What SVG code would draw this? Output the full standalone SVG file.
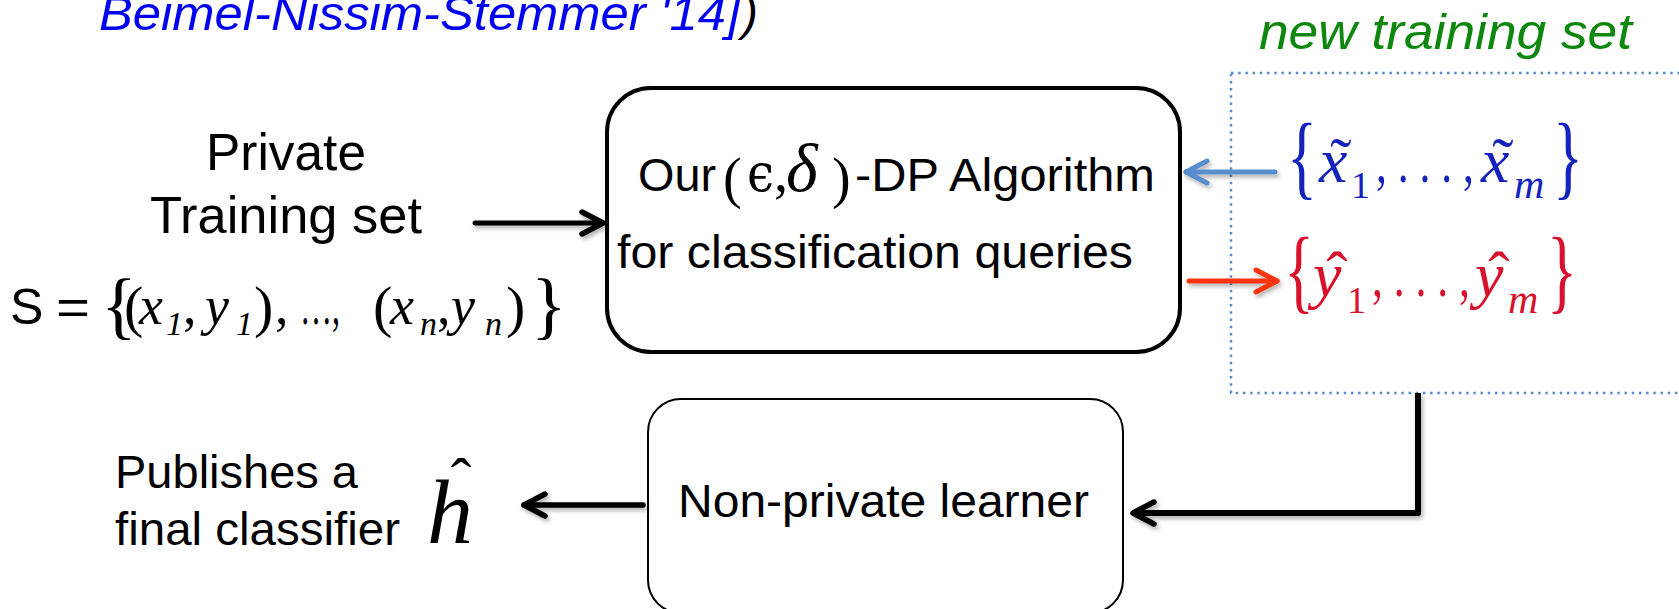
<svg xmlns="http://www.w3.org/2000/svg" width="1679" height="609" viewBox="0 0 1679 609">
<style>
.sans{font-family:"Liberation Sans",Arial,sans-serif;fill:#000}
.serif{font-family:"Liberation Serif","Times New Roman","DejaVu Serif",serif}
.it{font-style:italic}
.box{fill:#fff;stroke:#000}
.conn{fill:none;stroke-linecap:round;stroke-linejoin:round}
</style>
<defs>
<filter id="sh" x="-10%" y="-50%" width="130%" height="250%">
<feDropShadow dx="2" dy="3" stdDeviation="2" flood-color="#000" flood-opacity="0.3"/>
</filter>
<marker id="ahK" viewBox="0 0 30 30" markerWidth="30" markerHeight="30" refX="26" refY="15" orient="auto" markerUnits="userSpaceOnUse">
<path d="M5,4 L26,15 L5,26" fill="none" stroke="#000" stroke-width="5.5" stroke-linecap="round" stroke-linejoin="round"/>
</marker>
<marker id="ahB" viewBox="0 0 30 30" markerWidth="30" markerHeight="30" refX="26" refY="15" orient="auto" markerUnits="userSpaceOnUse">
<path d="M5,4 L26,15 L5,26" fill="none" stroke="#5A8DCB" stroke-width="5" stroke-linecap="round" stroke-linejoin="round"/>
</marker>
<marker id="ahR" viewBox="0 0 30 30" markerWidth="30" markerHeight="30" refX="26" refY="15" orient="auto" markerUnits="userSpaceOnUse">
<path d="M5,4 L26,15 L5,26" fill="none" stroke="#FF3410" stroke-width="5" stroke-linecap="round" stroke-linejoin="round"/>
</marker>
</defs>
<rect x="0" y="0" width="1679" height="609" fill="#fff"/>

<g id="citation">
<text class="sans it" x="99" y="30" font-size="48" style="fill:#0000F0" textLength="641" lengthAdjust="spacingAndGlyphs">Beimel-Nissim-Stemmer '14]</text>
<text class="sans it" x="742" y="30" font-size="48">)</text>
</g>

<g id="private-set">
<text class="sans" x="206" y="170" font-size="52" textLength="160" lengthAdjust="spacingAndGlyphs">Private</text>
<text class="sans" x="150" y="233" font-size="52" textLength="272" lengthAdjust="spacingAndGlyphs">Training set</text>
<text class="sans" x="10" y="324" font-size="50">S</text>
<text class="sans" x="56" y="324" font-size="50" textLength="34" lengthAdjust="spacingAndGlyphs">=</text>
<g class="serif">
<text x="101" y="330" font-size="74">{</text>
<text x="124" y="326" font-size="58">(</text>
<text class="it" x="139" y="324" font-size="54">x</text>
<text class="it" x="166" y="335" font-size="34">1</text>
<text x="183" y="324" font-size="54">,</text>
<text class="it" x="205" y="324" font-size="54">y</text>
<text class="it" x="236" y="335" font-size="34">1</text>
<text x="254" y="326" font-size="58">)</text>
<text x="275" y="324" font-size="54">,</text>
<text x="300" y="324" font-size="54" textLength="40" lengthAdjust="spacingAndGlyphs">…,</text>
<text x="373" y="326" font-size="58">(</text>
<text class="it" x="390" y="324" font-size="54">x</text>
<text class="it" x="420" y="335" font-size="34">n</text>
<text x="437" y="324" font-size="54">,</text>
<text class="it" x="451" y="324" font-size="54">y</text>
<text class="it" x="485" y="335" font-size="34">n</text>
<text x="506" y="326" font-size="58">)</text>
<text x="531" y="330" font-size="74">}</text>
</g>
</g>

<g id="algo">
<rect class="box" x="607" y="88" width="573" height="264" rx="44" ry="44" stroke-width="4"/>
<text class="sans" x="638" y="191" font-size="46" textLength="78" lengthAdjust="spacingAndGlyphs">Our</text>
<text class="serif" x="723" y="197" font-size="56">(</text>
<text x="747" y="191" font-size="52" style="font-family:'DejaVu Serif',serif" textLength="27" lengthAdjust="spacingAndGlyphs">ϵ</text>
<text class="serif" x="774" y="191" font-size="56">,</text>
<text class="serif it" x="786" y="191" font-size="68">δ</text>
<text class="serif" x="832" y="197" font-size="56">)</text>
<text class="sans" x="855" y="191" font-size="46" textLength="300" lengthAdjust="spacingAndGlyphs">-DP Algorithm</text>
<text class="sans" x="617" y="268" font-size="46" textLength="516" lengthAdjust="spacingAndGlyphs">for classification queries</text>
</g>

<g id="new-training-set">
<text class="sans it" x="1259" y="49" font-size="50" style="fill:#0E870E" textLength="373" lengthAdjust="spacingAndGlyphs">new training set</text>
<rect x="1231" y="73" width="470" height="320" fill="none" stroke="#5B8BCB" stroke-width="2.5" stroke-dasharray="2.5 4.7"/>
<g class="serif" fill="#1423BC">
<text x="1287" y="188" font-size="94" textLength="30" lengthAdjust="spacingAndGlyphs">{</text>
<text class="it" x="1319" y="182" font-size="64">x</text>
<text x="1341" y="182" font-size="64" text-anchor="middle">˜</text>
<text x="1351" y="198" font-size="38">1</text>
<text x="1376" y="182" font-size="60" textLength="98" lengthAdjust="spacingAndGlyphs">, . . . ,</text>
<text class="it" x="1481" y="182" font-size="64">x</text>
<text x="1503" y="182" font-size="64" text-anchor="middle">˜</text>
<text class="it" x="1514" y="198" font-size="42">m</text>
<text x="1553" y="188" font-size="94" textLength="30" lengthAdjust="spacingAndGlyphs">}</text>
</g>
<g class="serif" fill="#D8112C">
<text x="1284" y="302" font-size="94" textLength="30" lengthAdjust="spacingAndGlyphs">{</text>
<text class="it" x="1313" y="296" font-size="64">y</text>
<text x="1337" y="296" font-size="64" text-anchor="middle">ˆ</text>
<text x="1347" y="313" font-size="38">1</text>
<text x="1372" y="296" font-size="60" textLength="98" lengthAdjust="spacingAndGlyphs">, . . . ,</text>
<text class="it" x="1475" y="296" font-size="64">y</text>
<text x="1499" y="296" font-size="64" text-anchor="middle">ˆ</text>
<text class="it" x="1508" y="313" font-size="42">m</text>
<text x="1547" y="302" font-size="94" textLength="30" lengthAdjust="spacingAndGlyphs">}</text>
</g>
</g>

<g id="learner">
<rect class="box" x="648" y="399" width="475" height="214" rx="33" ry="33" stroke-width="2"/>
<text class="sans" x="678" y="517" font-size="46" textLength="411" lengthAdjust="spacingAndGlyphs">Non-private learner</text>
</g>

<g id="output">
<text class="sans" x="115" y="488" font-size="46" textLength="243" lengthAdjust="spacingAndGlyphs">Publishes a</text>
<text class="sans" x="115" y="545" font-size="46" textLength="285" lengthAdjust="spacingAndGlyphs">final classifier</text>
<text class="serif it" x="427" y="543" font-size="92">h</text>
<text class="serif" x="461" y="501" font-size="62" text-anchor="middle">ˆ</text>
</g>

<g id="connectors" filter="url(#sh)">
<path class="conn" d="M475,223 H603" stroke="#000" stroke-width="5" marker-end="url(#ahK)"/>
<path class="conn" d="M1275,172 H1186" stroke="#5A8DCB" stroke-width="5" marker-end="url(#ahB)"/>
<path class="conn" d="M1189,281 H1277" stroke="#FF3410" stroke-width="5" marker-end="url(#ahR)"/>
<path class="conn" d="M1418,393 V513 H1133" stroke="#000" stroke-width="6" marker-end="url(#ahK)" style="stroke-linecap:butt"/>
<path class="conn" d="M643,505 H524" stroke="#000" stroke-width="5.5" marker-end="url(#ahK)"/>
</g>
</svg>
